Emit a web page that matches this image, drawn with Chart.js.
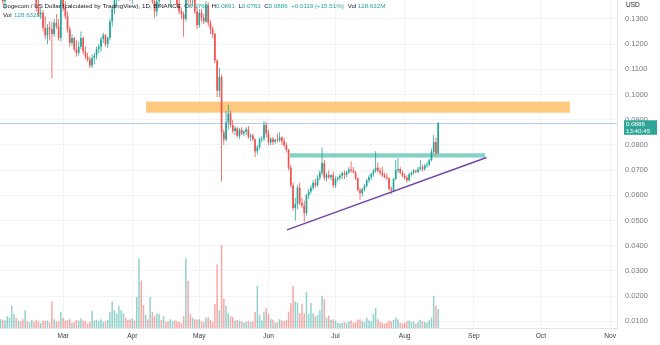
<!DOCTYPE html>
<html lang="en">
<head>
<meta charset="utf-8" />
<title>Dogecoin / US Dollar 1D</title>
<script src="https://cdn.jsdelivr.net/npm/chart.js@4.4.1/dist/chart.umd.min.js"></script>
<style>
  html, body { margin: 0; padding: 0; background: #ffffff; }
  #chart { display: block; }
</style>
</head>
<body>
<canvas id="chart" width="660" height="345"></canvas>
<script>
// daily candles from 2022-02-01 (index = days since Feb 1): [open, high, low, close]
const ohlc = [
  [0.1420,0.1450,0.1390,0.1425],[0.1425,0.1440,0.1360,0.1370],[0.1370,0.1400,0.1340,0.1390],[0.1390,0.1510,0.1380,0.1500],[0.1500,0.1560,0.1480,0.1540],
  [0.1540,0.1590,0.1510,0.1575],[0.1575,0.1700,0.1560,0.1670],[0.1670,0.1720,0.1570,0.1610],[0.1610,0.1660,0.1570,0.1640],[0.1640,0.1660,0.1510,0.1520],
  [0.1520,0.1560,0.1420,0.1430],[0.1430,0.1460,0.1410,0.1440],[0.1440,0.1450,0.1400,0.1415],[0.1415,0.1440,0.1380,0.1425],[0.1425,0.1510,0.1420,0.1500],
  [0.1500,0.1510,0.1440,0.1455],[0.1455,0.1470,0.1330,0.1345],[0.1345,0.1380,0.1310,0.1320],[0.1320,0.1345,0.1300,0.1325],[0.1325,0.1335,0.1250,0.1265],
  [0.1265,0.1310,0.1220,0.1235],[0.1235,0.1280,0.1200,0.1265],[0.1265,0.1290,0.1215,0.1260],[0.1260,0.1290,0.1065,0.1240],[0.1240,0.1300,0.1230,0.1285],
  [0.1285,0.1320,0.1260,0.1270],[0.1270,0.1300,0.1215,0.1225],[0.1225,0.1395,0.1210,0.1380],[0.1380,0.1420,0.1330,0.1345],[0.1345,0.1370,0.1300,0.1310],
  [0.1310,0.1330,0.1245,0.1260],[0.1260,0.1270,0.1190,0.1205],[0.1205,0.1240,0.1195,0.1225],[0.1225,0.1230,0.1170,0.1180],[0.1180,0.1215,0.1150,0.1165],
  [0.1165,0.1210,0.1155,0.1190],[0.1190,0.1250,0.1180,0.1225],[0.1225,0.1230,0.1160,0.1170],[0.1170,0.1190,0.1140,0.1150],[0.1150,0.1165,0.1130,0.1140],
  [0.1140,0.1150,0.1105,0.1115],[0.1115,0.1160,0.1105,0.1145],[0.1145,0.1165,0.1120,0.1155],[0.1155,0.1190,0.1140,0.1180],[0.1180,0.1200,0.1165,0.1190],
  [0.1190,0.1230,0.1170,0.1220],[0.1220,0.1245,0.1205,0.1235],[0.1235,0.1240,0.1190,0.1200],[0.1200,0.1230,0.1185,0.1225],[0.1225,0.1300,0.1215,0.1290],
  [0.1290,0.1350,0.1270,0.1340],[0.1340,0.1390,0.1320,0.1375],[0.1375,0.1420,0.1350,0.1395],[0.1395,0.1420,0.1370,0.1400],[0.1400,0.1450,0.1390,0.1440],
  [0.1440,0.1480,0.1420,0.1450],[0.1450,0.1470,0.1420,0.1430],[0.1430,0.1450,0.1400,0.1420],[0.1420,0.1440,0.1370,0.1385],[0.1385,0.1440,0.1360,0.1420],
  [0.1420,0.1450,0.1400,0.1410],[0.1410,0.1440,0.1390,0.1420],[0.1420,0.1580,0.1390,0.1550],[0.1550,0.1620,0.1480,0.1510],[0.1510,0.1520,0.1420,0.1440],
  [0.1440,0.1480,0.1410,0.1450],[0.1450,0.1460,0.1390,0.1400],[0.1400,0.1420,0.1380,0.1410],[0.1410,0.1420,0.1360,0.1370],[0.1370,0.1380,0.1305,0.1330],
  [0.1330,0.1390,0.1310,0.1370],[0.1370,0.1440,0.1350,0.1420],[0.1420,0.1450,0.1390,0.1400],[0.1400,0.1480,0.1390,0.1460],[0.1460,0.1470,0.1420,0.1440],
  [0.1440,0.1450,0.1380,0.1390],[0.1390,0.1440,0.1350,0.1430],[0.1430,0.1460,0.1410,0.1440],[0.1440,0.1460,0.1390,0.1400],[0.1400,0.1440,0.1350,0.1360],
  [0.1360,0.1380,0.1320,0.1330],[0.1330,0.1345,0.1300,0.1320],[0.1320,0.1330,0.1230,0.1300],[0.1300,0.1660,0.1290,0.1560],[0.1560,0.1580,0.1360,0.1380],
  [0.1380,0.1420,0.1350,0.1375],[0.1375,0.1420,0.1350,0.1390],[0.1390,0.1400,0.1320,0.1330],[0.1330,0.1350,0.1260,0.1275],[0.1275,0.1340,0.1265,0.1325],
  [0.1325,0.1340,0.1290,0.1305],[0.1305,0.1320,0.1280,0.1290],[0.1290,0.1370,0.1285,0.1355],[0.1355,0.1365,0.1270,0.1285],[0.1285,0.1295,0.1240,0.1260],
  [0.1260,0.1270,0.1225,0.1240],[0.1240,0.1245,0.1125,0.1135],[0.1135,0.1140,0.0990,0.1015],[0.1015,0.1105,0.0990,0.1070],[0.1070,0.1080,0.0655,0.0850],
  [0.0850,0.0860,0.0800,0.0822],[0.0822,0.0935,0.0815,0.0890],[0.0890,0.0960,0.0860,0.0925],[0.0925,0.0935,0.0870,0.0880],[0.0880,0.0900,0.0845,0.0855],
  [0.0855,0.0875,0.0840,0.0866],[0.0866,0.0872,0.0830,0.0836],[0.0836,0.0868,0.0825,0.0860],[0.0860,0.0870,0.0840,0.0845],[0.0845,0.0860,0.0835,0.0852],
  [0.0852,0.0870,0.0840,0.0862],[0.0862,0.0875,0.0825,0.0832],[0.0832,0.0845,0.0815,0.0838],[0.0838,0.0845,0.0815,0.0822],[0.0822,0.0828,0.0752,0.0775],
  [0.0775,0.0800,0.0762,0.0792],[0.0792,0.0830,0.0782,0.0822],[0.0822,0.0835,0.0810,0.0826],[0.0826,0.0895,0.0815,0.0880],[0.0880,0.0890,0.0830,0.0845],
  [0.0845,0.0860,0.0800,0.0810],[0.0810,0.0830,0.0800,0.0825],[0.0825,0.0832,0.0800,0.0812],[0.0812,0.0825,0.0805,0.0820],[0.0820,0.0845,0.0810,0.0818],
  [0.0818,0.0850,0.0812,0.0830],[0.0830,0.0835,0.0800,0.0815],[0.0815,0.0830,0.0790,0.0800],[0.0800,0.0810,0.0770,0.0780],[0.0780,0.0785,0.0700,0.0710],
  [0.0710,0.0720,0.0630,0.0640],[0.0640,0.0650,0.0540,0.0550],[0.0550,0.0590,0.0500,0.0565],[0.0565,0.0640,0.0545,0.0630],[0.0630,0.0650,0.0560,0.0570],
  [0.0570,0.0590,0.0550,0.0560],[0.0560,0.0580,0.0495,0.0530],[0.0530,0.0605,0.0520,0.0600],[0.0600,0.0625,0.0585,0.0615],[0.0615,0.0640,0.0605,0.0630],
  [0.0630,0.0660,0.0620,0.0650],[0.0650,0.0665,0.0630,0.0640],[0.0640,0.0680,0.0635,0.0670],[0.0670,0.0700,0.0660,0.0690],[0.0690,0.0790,0.0680,0.0728],
  [0.0728,0.0740,0.0660,0.0670],[0.0670,0.0690,0.0655,0.0680],[0.0680,0.0700,0.0665,0.0672],[0.0672,0.0685,0.0660,0.0680],[0.0680,0.0695,0.0630,0.0640],
  [0.0640,0.0675,0.0630,0.0665],[0.0665,0.0675,0.0655,0.0670],[0.0670,0.0685,0.0660,0.0678],[0.0678,0.0695,0.0665,0.0688],[0.0688,0.0700,0.0665,0.0682],
  [0.0682,0.0698,0.0672,0.0692],[0.0692,0.0712,0.0685,0.0703],[0.0703,0.0735,0.0690,0.0698],[0.0698,0.0712,0.0688,0.0692],[0.0692,0.0698,0.0660,0.0668],
  [0.0668,0.0672,0.0615,0.0620],[0.0620,0.0630,0.0582,0.0608],[0.0608,0.0630,0.0595,0.0625],[0.0625,0.0645,0.0615,0.0638],[0.0638,0.0665,0.0632,0.0660],
  [0.0660,0.0680,0.0650,0.0672],[0.0672,0.0690,0.0662,0.0685],[0.0685,0.0705,0.0675,0.0698],[0.0698,0.0775,0.0690,0.0710],[0.0710,0.0730,0.0690,0.0698],
  [0.0698,0.0710,0.0680,0.0690],[0.0690,0.0712,0.0672,0.0680],[0.0680,0.0690,0.0668,0.0672],[0.0672,0.0688,0.0660,0.0668],[0.0668,0.0672,0.0618,0.0625],
  [0.0625,0.0635,0.0605,0.0620],[0.0620,0.0670,0.0612,0.0665],[0.0665,0.0740,0.0660,0.0700],[0.0700,0.0748,0.0690,0.0705],[0.0705,0.0712,0.0685,0.0690],
  [0.0690,0.0700,0.0672,0.0678],[0.0678,0.0688,0.0662,0.0670],[0.0670,0.0680,0.0650,0.0660],[0.0660,0.0690,0.0655,0.0684],[0.0684,0.0695,0.0675,0.0690],
  [0.0690,0.0705,0.0682,0.0698],[0.0698,0.0702,0.0688,0.0694],[0.0694,0.0712,0.0688,0.0705],[0.0705,0.0740,0.0698,0.0712],[0.0712,0.0720,0.0695,0.0705],
  [0.0705,0.0725,0.0698,0.0718],[0.0718,0.0732,0.0710,0.0722],[0.0722,0.0745,0.0715,0.0740],[0.0740,0.0785,0.0735,0.0772],[0.0772,0.0840,0.0765,0.0812],
  [0.0812,0.0830,0.0758,0.0767],[0.0767,0.0891,0.0763,0.0886]
];
// daily volume, millions (same days)
const volumes = [
  60,55,50,80,70,150,95,70,50,45, 60,120,45,40,55,40,55,45,35,50,
  45,50,40,180,60,45,45,110,70,50, 55,60,35,40,55,50,65,50,45,30,
  40,115,50,55,45,60,40,45,55,110, 180,120,100,150,120,100,70,55,60,65,
  50,210,470,320,155,90,60,210,110,80, 100,95,55,80,40,45,60,45,50,45,
  40,30,80,470,320,95,70,60,55,60, 45,40,70,75,55,40,160,430,120,560,
  200,150,100,80,75,50,55,50,45,35, 40,50,40,45,110,285,90,50,110,135,
  95,60,55,35,40,60,50,45,55,110, 170,285,180,170,100,160,100,245,95,170,
  100,80,90,120,215,195,70,85,55,60, 50,35,30,35,40,35,45,50,35,40,
  55,60,45,40,70,50,45,95,135,60, 40,35,30,35,50,45,55,70,60,35,
  30,35,45,50,40,45,30,40,55,45, 40,35,50,70,215,150,128.632
];
// time axis: first day of each month (days since Feb 1) and its label
const monthDays = [28, 59, 89, 120, 150, 181, 212, 242, 273];
const monthNames = ['Mar', 'Apr', 'May', 'Jun', 'Jul', 'Aug', 'Sep', 'Oct', 'Nov'];
const priceTicks = [0.01, 0.02, 0.03, 0.04, 0.05, 0.06, 0.07, 0.08, 0.09, 0.10, 0.11, 0.12, 0.13];
// drawings: zones as [fromDay, toDay, lowPrice, highPrice], trend line as [day, price] pairs
const resistanceZone = [65.2, 255, 0.0928, 0.0972];
const breakoutZone = [129.6, 217, 0.0750, 0.0767];
const trendLine = [[128.3, 0.0463], [217.7, 0.0750]];
const lastPrice = 0.0886;

const UP = '#26a69a', DOWN = '#ef5350';
const candleColors = ohlc.map(r => r[3] >= r[0] ? UP : DOWN);
const volColors = ohlc.map(r => r[3] >= r[0] ? 'rgba(38,166,154,0.5)' : 'rgba(239,83,80,0.5)');

Chart.defaults.font.family = '"Liberation Sans", Arial, sans-serif';

const overlay = {
  id: 'overlay',
  beforeDatasetsDraw(chart) {
    const {ctx, chartArea: a, scales: {x, y}} = chart;
    ctx.save();
    ctx.beginPath();
    ctx.rect(a.left, a.top, a.right - a.left, a.bottom - a.top);
    ctx.clip();
    const band = (z, color) => {
      const x0 = x.getPixelForValue(z[0]), x1 = x.getPixelForValue(z[1]);
      const y0 = y.getPixelForValue(z[3]), y1 = y.getPixelForValue(z[2]);
      ctx.fillStyle = color;
      ctx.fillRect(x0, y0, x1 - x0, y1 - y0);
    };
    band(resistanceZone, '#ffc97f');
    band(breakoutZone, '#86d1c5');
    // last price line
    const py = Math.round(y.getPixelForValue(lastPrice)) + 0.5;
    ctx.strokeStyle = '#b9cbe8';
    ctx.lineWidth = 1;
    ctx.beginPath();
    ctx.moveTo(a.left, py);
    ctx.lineTo(a.right, py);
    ctx.stroke();
    ctx.restore();
  },
  afterDraw(chart) {
    const {ctx, chartArea: a, scales: {x, y}} = chart;
    ctx.save();
    // trend line
    ctx.strokeStyle = '#7446a6';
    ctx.lineWidth = 1.5;
    ctx.beginPath();
    ctx.moveTo(x.getPixelForValue(trendLine[0][0]), y.getPixelForValue(trendLine[0][1]));
    ctx.lineTo(x.getPixelForValue(trendLine[1][0]), y.getPixelForValue(trendLine[1][1]));
    ctx.stroke();

    // price label on the axis
    const py = y.getPixelForValue(lastPrice);
    ctx.fillStyle = '#2ea597';
    ctx.fillRect(a.right + 7, py - 3, 33, 14.5);
    ctx.fillStyle = '#ffffff';
    ctx.font = '6.2px "Liberation Sans", Arial, sans-serif';
    ctx.textBaseline = 'middle';
    ctx.textAlign = 'left';
    ctx.fillText(lastPrice.toFixed(4), a.right + 9, py + 1);
    ctx.fillText('13:40:45', a.right + 9, py + 7.5);

    // currency label
    ctx.fillStyle = '#131722';
    ctx.font = '6.5px "Liberation Sans", Arial, sans-serif';
    ctx.fillText('USD', a.right + 9, 5.5);

    // legend
    const dark = '#131722', teal = '#26a69a';
    ctx.font = '6.2px "Liberation Sans", Arial, sans-serif';
    const row = (parts, x0, yy) => {
      let cx = x0;
      parts.forEach(([t, c, gap]) => {
        ctx.fillStyle = c;
        ctx.fillText(t, cx, yy);
        cx += ctx.measureText(t).width + (gap || 0);
      });
    };
    row([
      ['Dogecoin / US Dollar (calculated by TradingView), 1D, BINANCE', dark, 3.5],
      ['O', dark], ['0.0768', teal, 3.5],
      ['H', dark], ['0.0891', teal, 3.5],
      ['L', dark], ['0.0763', teal, 3.5],
      ['C', dark], ['0.0886', teal, 3.5],
      ['+0.0119 (+15.51%)', teal, 4],
      ['Vol', dark, 1.5], ['128.632M', teal]
    ], 3, 6.5);
    row([['Vol', dark, 2.5], ['128.632M', teal]], 3, 15.5);
    ctx.restore();
  }
};

new Chart(document.getElementById('chart'), {
  type: 'bar',
  data: {
    datasets: [
      {
        label: 'Body',
        data: ohlc.map((r, i) => ({x: i, y: [r[0], r[3]]})),
        backgroundColor: candleColors,
        barThickness: 1.7,
        minBarLength: 1,
        inflateAmount: 0,
        grouped: false,
        order: 1,
        yAxisID: 'y'
      },
      {
        label: 'Wick',
        data: ohlc.map((r, i) => ({x: i, y: [r[2], r[1]]})),
        backgroundColor: candleColors,
        barThickness: 0.8,
        inflateAmount: 0,
        grouped: false,
        order: 2,
        yAxisID: 'y'
      },
      {
        label: 'Volume',
        data: volumes.map((v, i) => ({x: i, y: v})),
        backgroundColor: volColors,
        barThickness: 1.5,
        inflateAmount: 0,
        grouped: false,
        order: 3,
        yAxisID: 'yVol'
      }
    ]
  },
  options: {
    responsive: false,
    animation: false,
    devicePixelRatio: 1,
    layout: { padding: 0 },
    plugins: { legend: { display: false }, tooltip: { enabled: false } },
    scales: {
      x: {
        type: 'linear',
        min: -0.25,
        max: 276.1,
        offset: false,
        grid: { color: '#f2f3f6', drawTicks: false, offset: false },
        border: { color: '#e0e3eb' },
        ticks: {
          autoSkip: false,
          maxRotation: 0,
          padding: 4,
          color: '#3b3e48',
          font: { size: 6.6 },
          callback: v => monthNames[monthDays.indexOf(v)] || ''
        },
        afterBuildTicks: s => { s.ticks = monthDays.map(v => ({value: v})); },
        afterFit: s => { s.height = 17; s.paddingLeft = 0; s.paddingRight = 0; }
      },
      y: {
        position: 'right',
        min: 0.00734,
        max: 0.13754,
        grid: { color: '#f2f3f6', drawTicks: false },
        border: { color: '#e0e3eb' },
        ticks: {
          padding: 8,
          color: '#787b86',
          font: { size: 7.5 },
          callback: v => v.toFixed(4)
        },
        afterBuildTicks: s => { s.ticks = priceTicks.map(v => ({value: v})); },
        // keep the plot flush with the top edge, like the original
        afterFit: s => { s.width = 43; s.paddingTop = 0; s.paddingBottom = 0; }
      },
      yVol: {
        axis: 'y',
        display: false,
        min: 0,
        max: 2220
      }
    }
  },
  plugins: [overlay]
});
</script>
</body>
</html>
